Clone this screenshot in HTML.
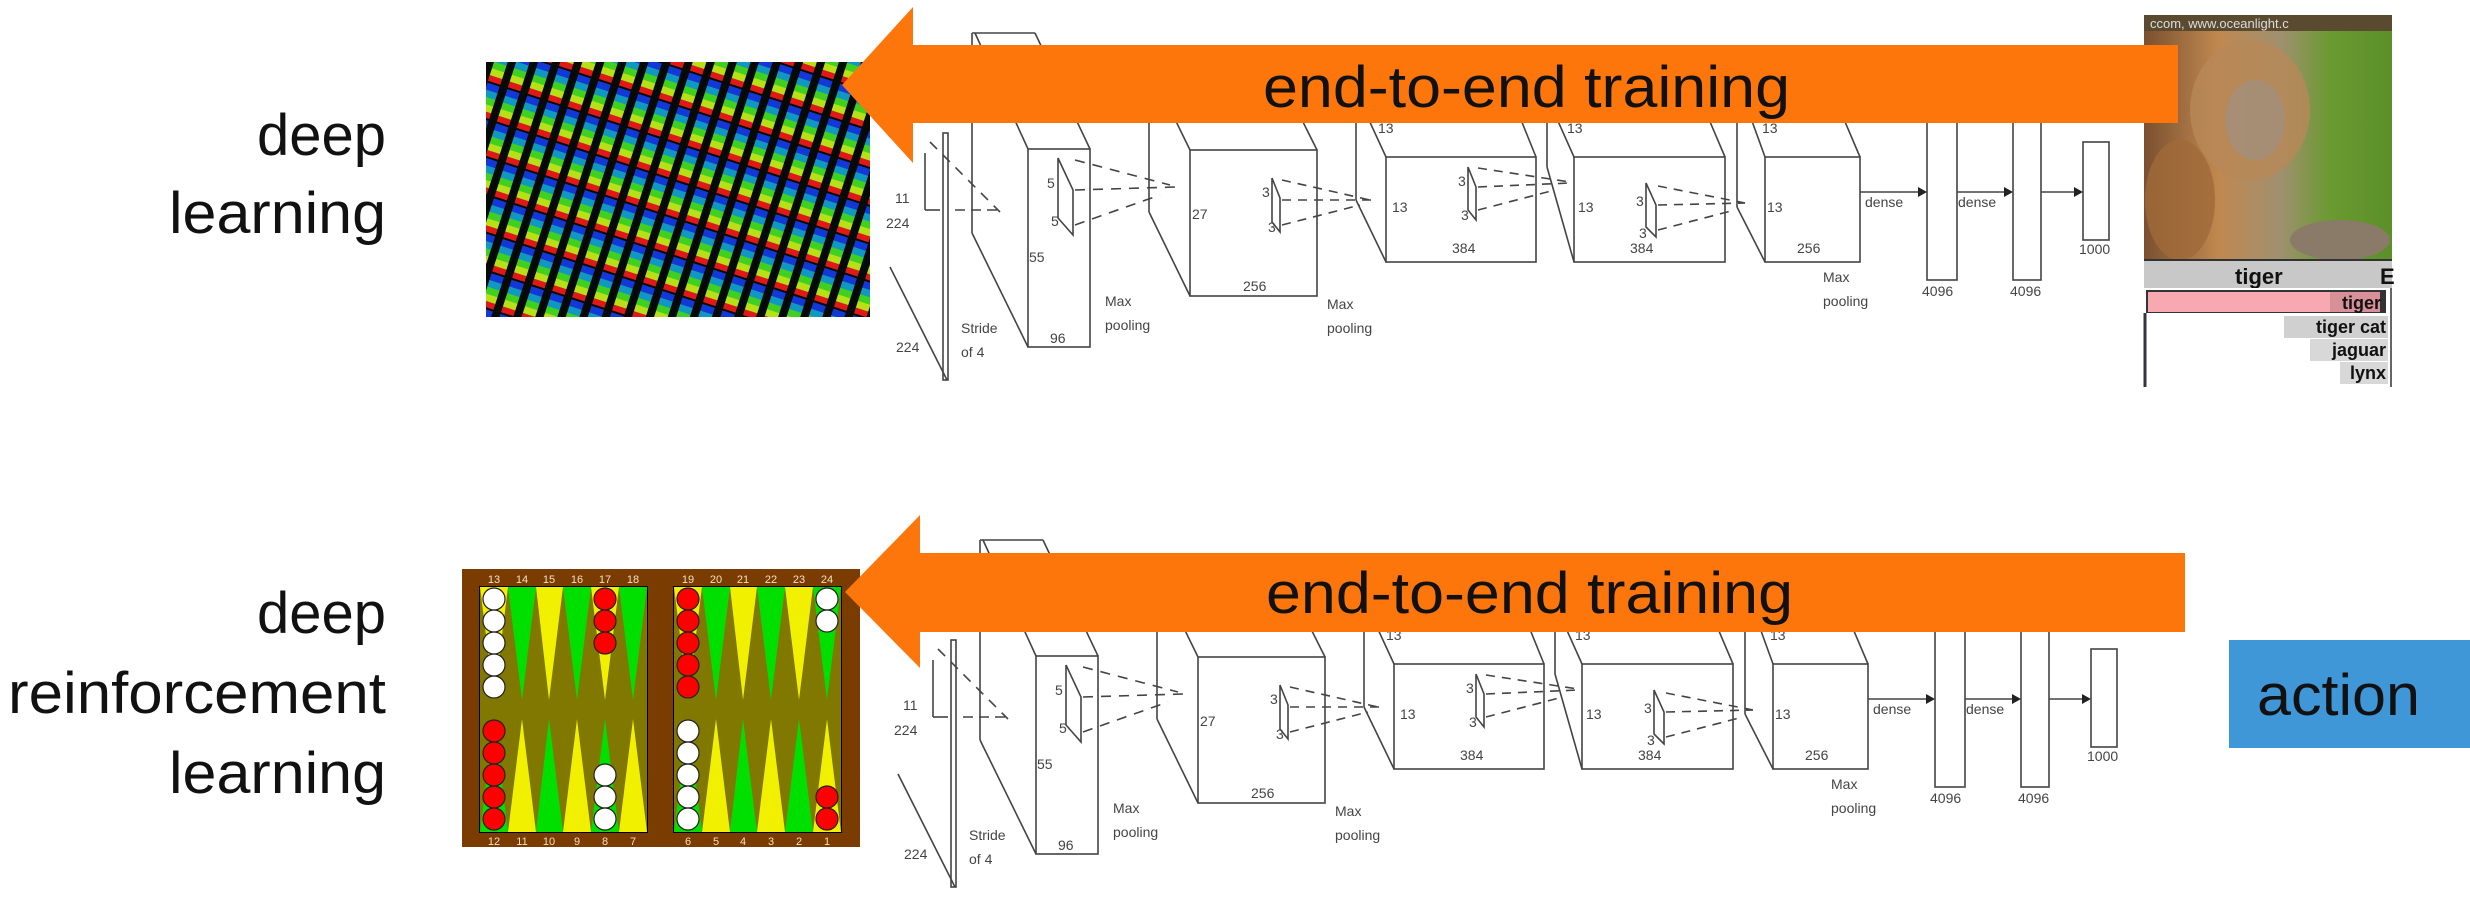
<!DOCTYPE html>
<html><head><meta charset="utf-8"><style>
html,body{margin:0;padding:0;background:#fff;}
svg{display:block;}
</style></head><body>
<svg width="2470" height="900" viewBox="0 0 2470 900" xmlns="http://www.w3.org/2000/svg" font-family="Liberation Sans, sans-serif">
<defs>
<pattern id="rgb" width="21" height="36" patternUnits="userSpaceOnUse" patternTransform="rotate(18)">
<rect width="21" height="36" fill="#050a06"/>
<rect x="6" y="0" width="13" height="7" fill="#1238d8"/>
<rect x="6" y="7" width="13" height="7" fill="#1098c0"/>
<rect x="6" y="14" width="13" height="7" fill="#40d020"/>
<rect x="6" y="21" width="13" height="7" fill="#b8e018"/>
<rect x="6" y="28" width="13" height="6" fill="#e01818"/>
</pattern>
<linearGradient id="tg" x1="0" y1="0" x2="1" y2="0">
<stop offset="0" stop-color="#7a5030"/><stop offset="0.3" stop-color="#c08850"/><stop offset="0.55" stop-color="#a09070"/><stop offset="0.75" stop-color="#6a9a30"/><stop offset="1" stop-color="#5a9028"/>
</linearGradient>
</defs>

<g font-size="58" fill="#111" text-anchor="end">
<text x="386" y="155">deep</text>
<text x="386" y="233" textLength="217" lengthAdjust="spacingAndGlyphs">learning</text>
<text x="386" y="633">deep</text>
<text x="386" y="713" textLength="378" lengthAdjust="spacingAndGlyphs">reinforcement</text>
<text x="386" y="793" textLength="217" lengthAdjust="spacingAndGlyphs">learning</text>
</g>

<rect x="486" y="62" width="384" height="255" fill="url(#rgb)"/>

<g stroke="#444" stroke-width="1.6" fill="none">
<line x1="890" y1="267" x2="947" y2="380"/>
<rect x="943" y="133" width="5" height="247"/>
<line x1="925" y1="153" x2="925" y2="210"/><line x1="925" y1="210" x2="940" y2="210"/>
<line x1="955" y1="210" x2="998" y2="210" stroke-dasharray="10,6"/>
<line x1="930" y1="142" x2="1000" y2="212" stroke-dasharray="10,8"/>
<line x1="972" y1="33" x2="972" y2="233"/><line x1="972" y1="233" x2="1028" y2="347"/>
<line x1="972" y1="33" x2="1035" y2="33"/><line x1="975" y1="33" x2="1028" y2="149"/><line x1="1035" y1="33" x2="1090" y2="149"/>
<rect x="1028" y="149" width="62" height="198"/>
<polyline points="1058,158 1058,218 1073,235 1073,190 1058,158"/>
<line x1="1075" y1="160" x2="1170" y2="185" stroke-dasharray="10,8"/>
<line x1="1075" y1="190" x2="1175" y2="187" stroke-dasharray="10,8"/>
<line x1="1075" y1="225" x2="1160" y2="195" stroke-dasharray="10,8"/>
<line x1="1149" y1="66" x2="1149" y2="212"/><line x1="1149" y1="212" x2="1190" y2="296"/>
<line x1="1149" y1="66" x2="1190" y2="150"/><line x1="1275" y1="66" x2="1317" y2="150"/>
<rect x="1190" y="150" width="127" height="146"/>
<polyline points="1272,178 1272,222 1280,232 1280,198 1272,178"/>
<line x1="1282" y1="180" x2="1370" y2="200" stroke-dasharray="9,7"/>
<line x1="1282" y1="200" x2="1372" y2="200" stroke-dasharray="9,7"/>
<line x1="1282" y1="225" x2="1360" y2="205" stroke-dasharray="9,7"/>
<line x1="1356" y1="100" x2="1356" y2="200"/><line x1="1356" y1="200" x2="1386" y2="262"/>
<line x1="1362" y1="105" x2="1386" y2="157"/><line x1="1515" y1="105" x2="1536" y2="157"/>
<rect x="1386" y="157" width="150" height="105"/>
<polyline points="1468,167 1468,210 1476,220 1476,187 1468,167"/>
<line x1="1478" y1="168" x2="1570" y2="182" stroke-dasharray="9,7"/>
<line x1="1478" y1="187" x2="1570" y2="183" stroke-dasharray="9,7"/>
<line x1="1478" y1="210" x2="1555" y2="190" stroke-dasharray="9,7"/>
<line x1="1547" y1="100" x2="1547" y2="167"/><line x1="1547" y1="167" x2="1574" y2="262"/>
<line x1="1553" y1="110" x2="1574" y2="157"/><line x1="1705" y1="110" x2="1725" y2="157"/>
<rect x="1574" y="157" width="151" height="105"/>
<polyline points="1646,183 1646,227 1656,237 1656,205 1646,183"/>
<line x1="1658" y1="186" x2="1745" y2="203" stroke-dasharray="9,7"/>
<line x1="1658" y1="205" x2="1745" y2="203" stroke-dasharray="9,7"/>
<line x1="1658" y1="230" x2="1735" y2="210" stroke-dasharray="9,7"/>
<line x1="1737" y1="100" x2="1737" y2="207"/><line x1="1737" y1="207" x2="1765" y2="262"/>
<line x1="1748" y1="110" x2="1765" y2="157"/><line x1="1840" y1="110" x2="1860" y2="157"/>
<rect x="1765" y="157" width="95" height="105"/>
<line x1="1860" y1="192" x2="1925" y2="192"/>
<rect x="1927" y="118" width="30" height="162"/>
<line x1="1957" y1="192" x2="2011" y2="192"/>
<rect x="2013" y="118" width="28" height="162"/>
<line x1="2041" y1="192" x2="2080" y2="192"/>
<rect x="2083" y="142" width="26" height="98"/>
<g fill="#222" stroke="none"><polygon points="1927,192 1918,187 1918,197"/><polygon points="2013,192 2004,187 2004,197"/><polygon points="2083,192 2074,187 2074,197"/></g>
<g fill="#444" stroke="none" font-size="14">
<text x="895" y="203">11</text><text x="886" y="228">224</text><text x="896" y="352">224</text>
<text x="961" y="333">Stride</text><text x="961" y="357">of 4</text>
<text x="1029" y="262">55</text><text x="1050" y="343">96</text>
<text x="1047" y="188">5</text><text x="1051" y="226">5</text>
<text x="1105" y="306">Max</text><text x="1105" y="330">pooling</text>
<text x="1192" y="219">27</text><text x="1243" y="291">256</text>
<text x="1262" y="197">3</text><text x="1268" y="232">3</text>
<text x="1327" y="309">Max</text><text x="1327" y="333">pooling</text>
<text x="1392" y="212">13</text><text x="1452" y="253">384</text>
<text x="1458" y="186">3</text><text x="1461" y="220">3</text>
<text x="1378" y="133">13</text>
<text x="1578" y="212">13</text><text x="1630" y="253">384</text>
<text x="1636" y="206">3</text><text x="1639" y="238">3</text>
<text x="1567" y="133">13</text>
<text x="1767" y="212">13</text><text x="1797" y="253">256</text><text x="1762" y="133">13</text>
<text x="1823" y="282">Max</text><text x="1823" y="306">pooling</text>
<text x="1865" y="207">dense</text><text x="1958" y="207">dense</text>
<text x="1922" y="296">4096</text><text x="2010" y="296">4096</text>
<text x="2079" y="254">1000</text>
</g>
</g>

<g transform="translate(8,507)" stroke="#444" stroke-width="1.6" fill="none">
<line x1="890" y1="267" x2="947" y2="380"/>
<rect x="943" y="133" width="5" height="247"/>
<line x1="925" y1="153" x2="925" y2="210"/><line x1="925" y1="210" x2="940" y2="210"/>
<line x1="955" y1="210" x2="998" y2="210" stroke-dasharray="10,6"/>
<line x1="930" y1="142" x2="1000" y2="212" stroke-dasharray="10,8"/>
<line x1="972" y1="33" x2="972" y2="233"/><line x1="972" y1="233" x2="1028" y2="347"/>
<line x1="972" y1="33" x2="1035" y2="33"/><line x1="975" y1="33" x2="1028" y2="149"/><line x1="1035" y1="33" x2="1090" y2="149"/>
<rect x="1028" y="149" width="62" height="198"/>
<polyline points="1058,158 1058,218 1073,235 1073,190 1058,158"/>
<line x1="1075" y1="160" x2="1170" y2="185" stroke-dasharray="10,8"/>
<line x1="1075" y1="190" x2="1175" y2="187" stroke-dasharray="10,8"/>
<line x1="1075" y1="225" x2="1160" y2="195" stroke-dasharray="10,8"/>
<line x1="1149" y1="66" x2="1149" y2="212"/><line x1="1149" y1="212" x2="1190" y2="296"/>
<line x1="1149" y1="66" x2="1190" y2="150"/><line x1="1275" y1="66" x2="1317" y2="150"/>
<rect x="1190" y="150" width="127" height="146"/>
<polyline points="1272,178 1272,222 1280,232 1280,198 1272,178"/>
<line x1="1282" y1="180" x2="1370" y2="200" stroke-dasharray="9,7"/>
<line x1="1282" y1="200" x2="1372" y2="200" stroke-dasharray="9,7"/>
<line x1="1282" y1="225" x2="1360" y2="205" stroke-dasharray="9,7"/>
<line x1="1356" y1="100" x2="1356" y2="200"/><line x1="1356" y1="200" x2="1386" y2="262"/>
<line x1="1362" y1="105" x2="1386" y2="157"/><line x1="1515" y1="105" x2="1536" y2="157"/>
<rect x="1386" y="157" width="150" height="105"/>
<polyline points="1468,167 1468,210 1476,220 1476,187 1468,167"/>
<line x1="1478" y1="168" x2="1570" y2="182" stroke-dasharray="9,7"/>
<line x1="1478" y1="187" x2="1570" y2="183" stroke-dasharray="9,7"/>
<line x1="1478" y1="210" x2="1555" y2="190" stroke-dasharray="9,7"/>
<line x1="1547" y1="100" x2="1547" y2="167"/><line x1="1547" y1="167" x2="1574" y2="262"/>
<line x1="1553" y1="110" x2="1574" y2="157"/><line x1="1705" y1="110" x2="1725" y2="157"/>
<rect x="1574" y="157" width="151" height="105"/>
<polyline points="1646,183 1646,227 1656,237 1656,205 1646,183"/>
<line x1="1658" y1="186" x2="1745" y2="203" stroke-dasharray="9,7"/>
<line x1="1658" y1="205" x2="1745" y2="203" stroke-dasharray="9,7"/>
<line x1="1658" y1="230" x2="1735" y2="210" stroke-dasharray="9,7"/>
<line x1="1737" y1="100" x2="1737" y2="207"/><line x1="1737" y1="207" x2="1765" y2="262"/>
<line x1="1748" y1="110" x2="1765" y2="157"/><line x1="1840" y1="110" x2="1860" y2="157"/>
<rect x="1765" y="157" width="95" height="105"/>
<line x1="1860" y1="192" x2="1925" y2="192"/>
<rect x="1927" y="118" width="30" height="162"/>
<line x1="1957" y1="192" x2="2011" y2="192"/>
<rect x="2013" y="118" width="28" height="162"/>
<line x1="2041" y1="192" x2="2080" y2="192"/>
<rect x="2083" y="142" width="26" height="98"/>
<g fill="#222" stroke="none"><polygon points="1927,192 1918,187 1918,197"/><polygon points="2013,192 2004,187 2004,197"/><polygon points="2083,192 2074,187 2074,197"/></g>
<g fill="#444" stroke="none" font-size="14">
<text x="895" y="203">11</text><text x="886" y="228">224</text><text x="896" y="352">224</text>
<text x="961" y="333">Stride</text><text x="961" y="357">of 4</text>
<text x="1029" y="262">55</text><text x="1050" y="343">96</text>
<text x="1047" y="188">5</text><text x="1051" y="226">5</text>
<text x="1105" y="306">Max</text><text x="1105" y="330">pooling</text>
<text x="1192" y="219">27</text><text x="1243" y="291">256</text>
<text x="1262" y="197">3</text><text x="1268" y="232">3</text>
<text x="1327" y="309">Max</text><text x="1327" y="333">pooling</text>
<text x="1392" y="212">13</text><text x="1452" y="253">384</text>
<text x="1458" y="186">3</text><text x="1461" y="220">3</text>
<text x="1378" y="133">13</text>
<text x="1578" y="212">13</text><text x="1630" y="253">384</text>
<text x="1636" y="206">3</text><text x="1639" y="238">3</text>
<text x="1567" y="133">13</text>
<text x="1767" y="212">13</text><text x="1797" y="253">256</text><text x="1762" y="133">13</text>
<text x="1823" y="282">Max</text><text x="1823" y="306">pooling</text>
<text x="1865" y="207">dense</text><text x="1958" y="207">dense</text>
<text x="1922" y="296">4096</text><text x="2010" y="296">4096</text>
<text x="2079" y="254">1000</text>
</g>
</g>

<g>
<rect x="462" y="569" width="398" height="278" fill="#7a3c00"/>
<rect x="479" y="586" width="169" height="247" fill="#000"/>
<rect x="673" y="586" width="169" height="247" fill="#000"/>
<rect x="480" y="587" width="167" height="245" fill="#807800"/>
<rect x="674" y="587" width="167" height="245" fill="#807800"/>
<g>
<polygon points="480,587 508,587 494,700" fill="#f0f000"/>
<polygon points="508,587 536,587 522,700" fill="#00e000"/>
<polygon points="536,587 563,587 549,700" fill="#f0f000"/>
<polygon points="563,587 591,587 577,700" fill="#00e000"/>
<polygon points="591,587 619,587 605,700" fill="#f0f000"/>
<polygon points="619,587 647,587 633,700" fill="#00e000"/>
<polygon points="480,832 508,832 494,719" fill="#00e000"/>
<polygon points="508,832 536,832 522,719" fill="#f0f000"/>
<polygon points="536,832 563,832 549,719" fill="#00e000"/>
<polygon points="563,832 591,832 577,719" fill="#f0f000"/>
<polygon points="591,832 619,832 605,719" fill="#00e000"/>
<polygon points="619,832 647,832 633,719" fill="#f0f000"/>
<polygon points="674,587 702,587 688,700" fill="#f0f000"/>
<polygon points="702,587 730,587 716,700" fill="#00e000"/>
<polygon points="730,587 757,587 743,700" fill="#f0f000"/>
<polygon points="757,587 785,587 771,700" fill="#00e000"/>
<polygon points="785,587 813,587 799,700" fill="#f0f000"/>
<polygon points="813,587 841,587 827,700" fill="#00e000"/>
<polygon points="674,832 702,832 688,719" fill="#00e000"/>
<polygon points="702,832 730,832 716,719" fill="#f0f000"/>
<polygon points="730,832 757,832 743,719" fill="#00e000"/>
<polygon points="757,832 785,832 771,719" fill="#f0f000"/>
<polygon points="785,832 813,832 799,719" fill="#00e000"/>
<polygon points="813,832 841,832 827,719" fill="#f0f000"/>
</g>
<g stroke="#222" stroke-width="1.2">
<g fill="#fff"><circle cx="494" cy="599" r="11"/><circle cx="494" cy="621" r="11"/><circle cx="494" cy="643" r="11"/><circle cx="494" cy="665" r="11"/><circle cx="494" cy="687" r="11"/></g>
<g fill="#f00"><circle cx="605" cy="599" r="11"/><circle cx="605" cy="621" r="11"/><circle cx="605" cy="643" r="11"/></g>
<g fill="#f00"><circle cx="688" cy="599" r="11"/><circle cx="688" cy="621" r="11"/><circle cx="688" cy="643" r="11"/><circle cx="688" cy="665" r="11"/><circle cx="688" cy="687" r="11"/></g>
<g fill="#fff"><circle cx="827" cy="599" r="11"/><circle cx="827" cy="621" r="11"/></g>
<g fill="#f00"><circle cx="494" cy="731" r="11"/><circle cx="494" cy="753" r="11"/><circle cx="494" cy="775" r="11"/><circle cx="494" cy="797" r="11"/><circle cx="494" cy="819" r="11"/></g>
<g fill="#fff"><circle cx="605" cy="775" r="11"/><circle cx="605" cy="797" r="11"/><circle cx="605" cy="819" r="11"/></g>
<g fill="#fff"><circle cx="688" cy="731" r="11"/><circle cx="688" cy="753" r="11"/><circle cx="688" cy="775" r="11"/><circle cx="688" cy="797" r="11"/><circle cx="688" cy="819" r="11"/></g>
<g fill="#f00"><circle cx="827" cy="797" r="11"/><circle cx="827" cy="819" r="11"/></g>
</g>
<g fill="#f4e0c0" font-size="11" text-anchor="middle">
<text x="494" y="583">13</text><text x="522" y="583">14</text><text x="549" y="583">15</text><text x="577" y="583">16</text><text x="605" y="583">17</text><text x="633" y="583">18</text>
<text x="688" y="583">19</text><text x="716" y="583">20</text><text x="743" y="583">21</text><text x="771" y="583">22</text><text x="799" y="583">23</text><text x="827" y="583">24</text>
<text x="494" y="845">12</text><text x="522" y="845">11</text><text x="549" y="845">10</text><text x="577" y="845">9</text><text x="605" y="845">8</text><text x="633" y="845">7</text>
<text x="688" y="845">6</text><text x="716" y="845">5</text><text x="743" y="845">4</text><text x="771" y="845">3</text><text x="799" y="845">2</text><text x="827" y="845">1</text>
</g>
</g>

<g>
<rect x="2144" y="15" width="248" height="245" fill="url(#tg)"/>
<ellipse cx="2250" cy="110" rx="60" ry="70" fill="#b88858" opacity="0.8"/>
<ellipse cx="2255" cy="120" rx="30" ry="40" fill="#a09080" opacity="0.7"/>
<ellipse cx="2180" cy="200" rx="35" ry="60" fill="#a06a38" opacity="0.8"/>
<ellipse cx="2340" cy="240" rx="50" ry="20" fill="#8a7a68"/>
<rect x="2144" y="15" width="248" height="16" fill="#5a4a30"/>
<text x="2150" y="28" font-size="13" fill="#ddd">ccom, www.oceanlight.c</text>
<rect x="2144" y="260" width="248" height="28" fill="#c8c8c8"/>
<line x1="2144" y1="260" x2="2392" y2="260" stroke="#333" stroke-width="2"/>
<text x="2235" y="284" font-size="22" font-weight="bold" fill="#111">tiger</text>
<text x="2380" y="284" font-size="22" font-weight="bold" fill="#111">E</text>
<rect x="2144" y="288" width="248" height="99" fill="#fff"/>
<rect x="2146" y="290" width="240" height="23" fill="#333"/>
<rect x="2148" y="292" width="230" height="20" fill="#f7a8b0"/>
<rect x="2330" y="292" width="50" height="20" fill="#d89098"/>
<text x="2381" y="309" font-size="18" font-weight="bold" fill="#111" text-anchor="end">tiger</text>
<rect x="2284" y="316" width="104" height="22" fill="#d0d0d0"/>
<text x="2386" y="333" font-size="18" font-weight="bold" fill="#111" text-anchor="end">tiger cat</text>
<rect x="2310" y="339" width="78" height="22" fill="#d8d8d8"/>
<text x="2386" y="356" font-size="18" font-weight="bold" fill="#111" text-anchor="end">jaguar</text>
<rect x="2340" y="362" width="48" height="22" fill="#d8d8d8"/>
<text x="2386" y="379" font-size="18" font-weight="bold" fill="#111" text-anchor="end">lynx</text>
<line x1="2145" y1="313" x2="2145" y2="387" stroke="#334" stroke-width="3"/>
<line x1="2391" y1="288" x2="2391" y2="387" stroke="#666" stroke-width="2"/>
</g>

<polygon points="842,85 913,7 913,45 2178,45 2178,123 913,123 913,163" fill="#fd760c"/>
<text x="1263" y="107" font-size="58" fill="#111" textLength="527" lengthAdjust="spacingAndGlyphs">end-to-end training</text>
<polygon points="845,592 920,515 920,553 2185,553 2185,632 920,632 920,668" fill="#fd760c"/>
<text x="1266" y="613" font-size="58" fill="#111" textLength="527" lengthAdjust="spacingAndGlyphs">end-to-end training</text>

<rect x="2229" y="640" width="241" height="108" fill="#3f97d8"/>
<text x="2257" y="715" font-size="58" fill="#111" textLength="163" lengthAdjust="spacingAndGlyphs">action</text>
</svg>
</body></html>
